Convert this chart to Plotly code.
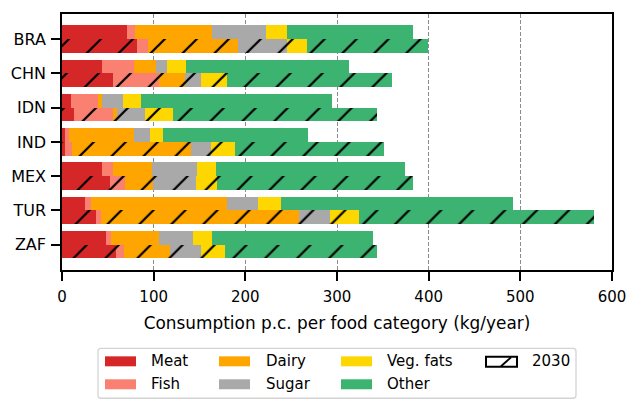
import plotly.graph_objects as go

countries = ["BRA", "CHN", "IDN", "IND", "MEX", "TUR", "ZAF"]
categories = ["Meat", "Fish", "Dairy", "Sugar", "Veg. fats", "Other"]
colors = ["#d62728", "#fa8072", "#ffa500", "#a9a9a9", "#ffd700", "#3cb371"]

# Per-capita consumption (kg/year), present day
meat_now = [71, 43.5, 10, 3, 43.5, 25.5, 48]
fish_now = [9, 35, 29, 5, 12, 6, 5.5]
dairy_now = [83.5, 24, 4.5, 70, 42.5, 149, 52]
sugar_now = [59.5, 11.5, 23, 18, 49.5, 33.5, 37]
vegfat_now = [22.5, 21, 20, 14, 20.5, 25, 21]
other_now = [137.5, 178, 208, 158, 206.5, 253.5, 175.5]

# Per-capita consumption (kg/year), 2030 projection
meat_2030 = [81.5, 56, 13, 3.5, 52.5, 37.5, 59]
fish_2030 = [12.5, 49.5, 43, 7, 16, 5, 9]
dairy_2030 = [97.5, 29, 4, 130, 31, 216, 49.5]
sugar_2030 = [54, 17, 30.5, 22, 47, 34, 34.5]
vegfat_2030 = [22, 29, 30.5, 26.5, 22.5, 32, 26]
other_2030 = [132, 179, 222.5, 162, 214, 256, 166]

now_series = [meat_now, fish_now, dairy_now, sugar_now, vegfat_now, other_now]
future_series = [meat_2030, fish_2030, dairy_2030, sugar_2030, vegfat_2030, other_2030]

x_ticks = [0, 100, 200, 300, 400, 500, 600]

FONT = "DejaVu Sans"
FS = 15

# plot-area edges in pixels (used for legend placement)
L, R, T, B = 62, 612, 14, 270.5
W_PX, H_PX = 628, 400


def px(xp):
    return (xp - L) / (R - L)


def py(yp):
    return (B - yp) / (B - T)


n = len(countries)
y_now = [i - 0.2 for i in range(n)]
y_fut = [i + 0.2 for i in range(n)]

fig = go.Figure()
for cat, col, s_now, s_fut in zip(categories, colors, now_series, future_series):
    fig.add_trace(go.Bar(
        orientation="h",
        y=y_now + y_fut,
        x=list(s_now) + list(s_fut),
        width=0.4,
        name=cat,
        showlegend=False,
        marker=dict(
            color=col,
            line=dict(width=0),
            pattern=dict(
                shape=[""] * n + ["/"] * n,
                fillmode="overlay",
                fgcolor="black",
                fgopacity=1,
                size=22.6,
                solidity=0.1,
            ),
        ),
        hoverinfo="x+name",
    ))

shapes = []
annotations = []

# legend frame with rounded corners
bx0, bx1, by0, by1 = px(98), px(576), py(399), py(349)
rx, ry = 3 / (R - L), 3 / (B - T)
path = (
    f"M{bx0 + rx},{by1} L{bx1 - rx},{by1} Q{bx1},{by1} {bx1},{by1 - ry} "
    f"L{bx1},{by0 + ry} Q{bx1},{by0} {bx1 - rx},{by0} "
    f"L{bx0 + rx},{by0} Q{bx0},{by0} {bx0},{by0 + ry} "
    f"L{bx0},{by1 - ry} Q{bx0},{by1} {bx0 + rx},{by1} Z"
)
shapes.append(dict(type="path", xref="paper", yref="paper", path=path,
                   line=dict(color="#d4d4d4", width=1.3), fillcolor="rgba(255,255,255,0.9)",
                   layer="above"))

col_pos = [(105, 149), (219, 264), (341, 385)]
row_pos = [362, 385]
for k, (cat, col) in enumerate(zip(categories, colors)):
    sx, tx = col_pos[k // 2]
    ry_c = row_pos[k % 2]
    shapes.append(dict(type="rect", xref="paper", yref="paper",
                       x0=px(sx), x1=px(sx + 31), y0=py(ry_c + 5), y1=py(ry_c - 5),
                       fillcolor=col, line=dict(width=0), layer="above"))
    annotations.append(dict(xref="paper", yref="paper", x=px(tx), y=py(ry_c),
                            text=cat, showarrow=False, xanchor="left", yanchor="middle",
                            font=dict(family=FONT, size=FS, color="black")))

# hatched "2030" key
shapes.append(dict(type="rect", xref="paper", yref="paper",
                   x0=px(486), x1=px(517), y0=py(367.5), y1=py(357.5),
                   fillcolor="white", line=dict(color="black", width=2), layer="above"))
shapes.append(dict(type="line", xref="paper", yref="paper",
                   x0=px(501), x1=px(511), y0=py(367), y1=py(358),
                   line=dict(color="black", width=2), layer="above"))
annotations.append(dict(xref="paper", yref="paper", x=px(530), y=py(362),
                        text="2030", showarrow=False, xanchor="left", yanchor="middle",
                        font=dict(family=FONT, size=FS, color="black")))

fig.update_layout(
    width=W_PX, height=H_PX,
    margin=dict(l=L, r=W_PX - R, t=T, b=H_PX - B),
    barmode="stack",
    plot_bgcolor="white",
    paper_bgcolor="white",
    font=dict(family=FONT, size=FS, color="black"),
    shapes=shapes,
    annotations=annotations,
    showlegend=False,
)

fig.update_xaxes(
    range=[0, 600],
    tickvals=x_ticks,
    ticktext=[str(v) for v in x_ticks],
    automargin=False,
    showgrid=True, gridcolor="#8c8c8c", gridwidth=1, griddash="4px,2px",
    zeroline=False,
    showline=True, linecolor="black", linewidth=1.6, mirror=True,
    ticks="outside", ticklen=9, tickwidth=1.5, tickcolor="black",
    ticklabelstandoff=3,
    tickfont=dict(family=FONT, size=FS, color="black"),
    title=dict(text="Consumption p.c. per food category (kg/year)",
               font=dict(family=FONT, size=16.9, color="black"), standoff=12),
)
fig.update_yaxes(
    range=[6.74, -0.735],
    tickvals=list(range(n)),
    ticktext=countries,
    automargin=False,
    showgrid=False, zeroline=False,
    showline=True, linecolor="black", linewidth=1.6, mirror=True,
    ticks="outside", ticklen=9, tickwidth=1.5, tickcolor="black",
    ticklabelstandoff=2,
    tickfont=dict(family=FONT, size=16, color="black"),
)

fig.write_html("out.html")
